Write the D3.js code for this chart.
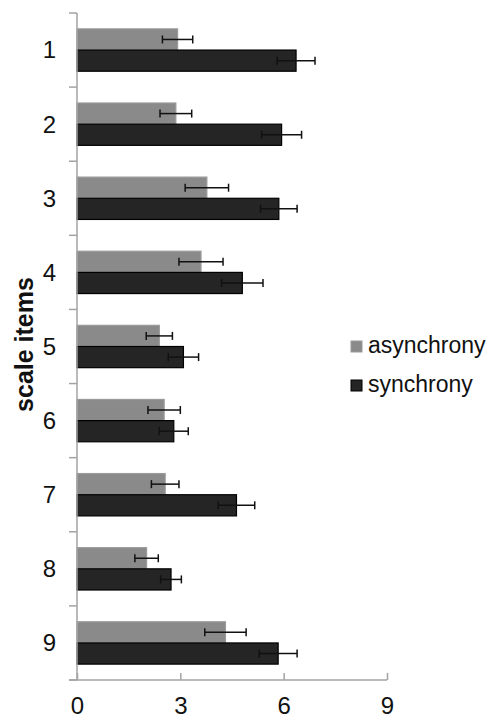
<!DOCTYPE html>
<html>
<head>
<meta charset="utf-8">
<script src="https://cdn.jsdelivr.net/npm/d3@7"></script>
<style>
  html, body { margin: 0; padding: 0; background: #fff; }
  svg { display: block; }
  text { font-family: "Liberation Sans", Arial, sans-serif; fill: #111; }
</style>
</head>
<body>
<script>
const items = ["1", "2", "3", "4", "5", "6", "7", "8", "9"];
const seriesNames = ["asynchrony", "synchrony"];
const asynchrony = [2.92, 2.87, 3.77, 3.60, 2.39, 2.53, 2.56, 2.02, 4.31];
const asynchronyErr = [0.44, 0.46, 0.63, 0.64, 0.38, 0.47, 0.40, 0.34, 0.60];
const synchrony = [6.36, 5.94, 5.86, 4.80, 3.09, 2.81, 4.63, 2.73, 5.84];
const synchronyErr = [0.55, 0.58, 0.53, 0.60, 0.44, 0.42, 0.53, 0.30, 0.55];
const xTicks = [0, 3, 6, 9];
const colors = ["#8a8a8a", "#252525"];
const strokes = ["#9a9a9a", "#000000"];

const W = 493, H = 720;
const mLeft = 77, mRight = 387, mTop = 13, mBottom = 680;

const svg = d3.select("body").append("svg").attr("width", W).attr("height", H);

const x = d3.scaleLinear().domain([0, 9]).range([mLeft, mRight]);
const y = d3.scaleBand().domain(items).range([mTop, mBottom]).padding(0);
const ys = d3.scaleBand().domain(seriesNames).range([0, y.bandwidth()]).paddingInner(0).paddingOuter(0.75);

const data = items.map((it, i) => ({
  item: it,
  vals: [
    { s: seriesNames[0], v: asynchrony[i], e: asynchronyErr[i], c: 0 },
    { s: seriesNames[1], v: synchrony[i], e: synchronyErr[i], c: 1 }
  ]
}));

const axisColor = "#a3a3a3";

// Bars
const g = svg.append("g");
const groups = g.selectAll("g.item").data(data).join("g")
  .attr("transform", d => `translate(0,${y(d.item)})`);

groups.selectAll("rect").data(d => d.vals).join("rect")
  .attr("x", x(0))
  .attr("y", d => ys(d.s))
  .attr("width", d => x(d.v) - x(0))
  .attr("height", ys.bandwidth())
  .attr("fill", d => colors[d.c])
  .attr("stroke", d => strokes[d.c])
  .attr("stroke-width", 1.2);

// Error bars
const eb = groups.selectAll("g.err").data(d => d.vals).join("g").attr("class", "err");
eb.append("line")
  .attr("x1", d => x(d.v - d.e)).attr("x2", d => x(d.v + d.e))
  .attr("y1", d => ys(d.s) + ys.bandwidth() / 2).attr("y2", d => ys(d.s) + ys.bandwidth() / 2)
  .attr("stroke", "#111").attr("stroke-width", 1.5);
eb.append("line")
  .attr("x1", d => x(d.v - d.e)).attr("x2", d => x(d.v - d.e))
  .attr("y1", d => ys(d.s) + ys.bandwidth() / 2 - 4).attr("y2", d => ys(d.s) + ys.bandwidth() / 2 + 4)
  .attr("stroke", "#111").attr("stroke-width", 1.5);
eb.append("line")
  .attr("x1", d => x(d.v + d.e)).attr("x2", d => x(d.v + d.e))
  .attr("y1", d => ys(d.s) + ys.bandwidth() / 2 - 4).attr("y2", d => ys(d.s) + ys.bandwidth() / 2 + 4)
  .attr("stroke", "#111").attr("stroke-width", 1.5);

// Y axis line and boundary ticks
svg.append("line").attr("x1", mLeft).attr("x2", mLeft).attr("y1", mTop).attr("y2", mBottom)
  .attr("stroke", axisColor).attr("stroke-width", 1.5);
const boundaries = items.map(d => y(d)).concat([mBottom]);
svg.selectAll("line.ytick").data(boundaries).join("line").attr("class", "ytick")
  .attr("x1", mLeft - 8).attr("x2", mLeft).attr("y1", d => d).attr("y2", d => d)
  .attr("stroke", axisColor).attr("stroke-width", 1.5);

// Y labels
svg.selectAll("text.ylab").data(items).join("text").attr("class", "ylab")
  .attr("x", 56).attr("y", d => y(d) + y.bandwidth() / 2)
  .attr("dy", "0.35em").attr("text-anchor", "end")
  .style("font-size", "24px").text(d => d);

// X axis
const xAxis = d3.axisBottom(x).tickValues(xTicks).tickSizeInner(-7).tickSizeOuter(0).tickPadding(17);
const xg = svg.append("g").attr("transform", `translate(0,${mBottom})`).call(xAxis);
xg.select(".domain").remove();
xg.selectAll(".tick line").attr("stroke", axisColor).attr("stroke-width", 1.5);
xg.selectAll(".tick text").style("font-size", "24px").attr("fill", "#111")
  .style("font-family", "'Liberation Sans', Arial, sans-serif");
svg.append("line").attr("x1", mLeft - 8).attr("x2", mRight).attr("y1", mBottom).attr("y2", mBottom)
  .attr("stroke", axisColor).attr("stroke-width", 1.5);

// Y title
svg.append("text")
  .attr("transform", `translate(33,${(mTop + mBottom) / 2 - 2}) rotate(-90)`)
  .attr("text-anchor", "middle")
  .style("font-size", "25px").style("font-weight", "bold")
  .text("scale items");

// Legend
const legend = svg.append("g");
const lg = legend.selectAll("g").data(seriesNames).join("g")
  .attr("transform", (d, i) => `translate(351,${341 + i * 39})`);
lg.append("rect").attr("width", 11).attr("height", 11)
  .attr("fill", (d, i) => colors[i]).attr("stroke", (d, i) => strokes[i]).attr("stroke-width", 1);
lg.append("text").attr("x", 17).attr("y", 12).style("font-size", "23px").text(d => d);
</script>
</body>
</html>
